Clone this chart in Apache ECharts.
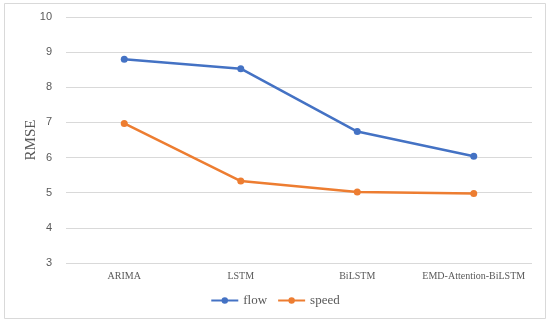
<!DOCTYPE html>
<html><head><meta charset="utf-8">
<script src="https://cdn.jsdelivr.net/npm/echarts@6/dist/echarts.min.js"></script>
<style>html,body{margin:0;padding:0;background:#fff}#c{width:550px;height:323px}</style>
</head><body><div id="c"></div>
<script>
const categories = ['ARIMA', 'LSTM', 'BiLSTM', 'EMD-Attention-BiLSTM'];
const flow = [8.8, 8.53, 6.74, 6.04];
const speed = [6.97, 5.33, 5.02, 4.98];
const yTicks = { min: 3, max: 10, interval: 1 };

const chart = echarts.init(document.getElementById('c'), null, { renderer: 'canvas' });
chart.setOption({
  animation: false,
  backgroundColor: '#fff',
  graphic: [{
    type: 'rect', shape: { x: 4.5, y: 3.5, width: 541, height: 315 },
    style: { fill: 'none', stroke: '#d9d9d9', lineWidth: 1 }, silent: true
  }],
  grid: { left: 66, right: 18, top: 17, bottom: 60 },
  xAxis: {
    type: 'category', data: categories, boundaryGap: true,
    axisLine: { show: false }, axisTick: { show: false },
    axisLabel: { interval: 0, color: '#595959', fontFamily: 'Liberation Serif', fontSize: 10, margin: 8 }
  },
  yAxis: {
    type: 'value', min: yTicks.min, max: yTicks.max, interval: yTicks.interval,
    name: 'RMSE', nameLocation: 'middle', nameGap: 27, nameRotate: 90, nameMoveOverlap: false,
    nameTextStyle: { color: '#595959', fontFamily: 'Liberation Serif', fontSize: 15 },
    axisLine: { show: false }, axisTick: { show: false },
    axisLabel: { color: '#595959', fontFamily: 'Liberation Sans', fontSize: 11, margin: 14 },
    splitLine: { lineStyle: { color: '#d9d9d9', width: 1 } }
  },
  legend: {
    bottom: 11, left: 'center', itemWidth: 27, itemHeight: 8, itemGap: 10,
    textStyle: { color: '#595959', fontFamily: 'Liberation Serif', fontSize: 13 },
    data: ['flow', 'speed']
  },
  series: [
    { name: 'flow', type: 'line', data: flow, color: '#4472C4',
      lineStyle: { width: 2.5 }, symbol: 'circle', symbolSize: 7 },
    { name: 'speed', type: 'line', data: speed, color: '#ED7D31',
      lineStyle: { width: 2.5 }, symbol: 'circle', symbolSize: 7 }
  ]
});
</script></body></html>
